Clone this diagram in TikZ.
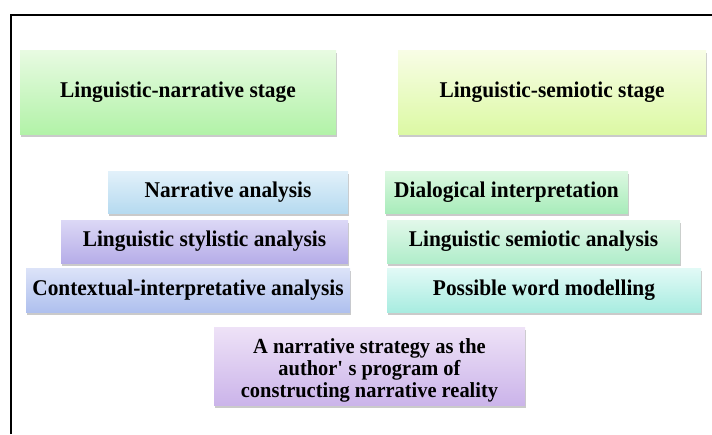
\documentclass[tikz,border=0pt]{standalone}
\usepackage{fontspec}
\setmainfont{Liberation Serif}[FakeStretch=0.95]
\usetikzlibrary{shadows}

\definecolor{narrtop}{HTML}{E8FBE2}
\definecolor{narrbot}{HTML}{B2F2A8}
\definecolor{semtop}{HTML}{F8FDE6}
\definecolor{sembot}{HTML}{DCF9A4}
\definecolor{bluetop}{HTML}{E2F1FA}
\definecolor{bluebot}{HTML}{B6DAF0}
\definecolor{lavtop}{HTML}{DCD8F6}
\definecolor{lavbot}{HTML}{B6ADE8}
\definecolor{peritop}{HTML}{DCE3F8}
\definecolor{peribot}{HTML}{AFC0EE}
\definecolor{minttop}{HTML}{DDF8E2}
\definecolor{mintbot}{HTML}{A8ECBA}
\definecolor{seatop}{HTML}{E2F8EA}
\definecolor{seabot}{HTML}{B0EDCA}
\definecolor{aquatop}{HTML}{E2FAF6}
\definecolor{aquabot}{HTML}{A8ECE0}
\definecolor{liltop}{HTML}{EEE2F7}
\definecolor{lilbot}{HTML}{CBB4EA}

\tikzset{
  box/.style={rectangle, inner sep=0pt, align=center,
    font=\bfseries\fontsize{22.5}{24}\selectfont,
    drop shadow={shadow xshift=0.8pt, shadow yshift=-2.5pt, opacity=0.35, fill=black!60}},
}

\begin{document}
\begin{tikzpicture}[x=1pt, y=-1pt]
	\useasboundingbox (0,0) rectangle (712,434);

	% outer frame, cut off at the right and bottom
	\draw[line width=2pt] (11,434) -- (11,15) -- (712,15);

	% stages
	\node[box, minimum width=316pt, minimum height=84pt, top color=narrtop, bottom color=narrbot] (narrstage) at (178,92) {Linguistic-narrative stage};
	\node[box, minimum width=308pt, minimum height=84pt, top color=semtop, bottom color=sembot] (semstage) at (552,92) {Linguistic-semiotic stage};

	% left column
	\node[box, minimum width=240pt, minimum height=42pt, top color=bluetop, bottom color=bluebot] (narran) at (228,192) {Narrative analysis};
	\node[box, minimum width=287pt, minimum height=43pt, top color=lavtop, bottom color=lavbot] (stylan) at (204.5,241.5) {Linguistic stylistic analysis};
	\node[box, minimum width=324pt, minimum height=44pt, top color=peritop, bottom color=peribot] (contan) at (188,290) {Contextual-interpretative analysis};

	% right column
	\node[box, minimum width=243pt, minimum height=42pt, top color=minttop, bottom color=mintbot] (dialint) at (506.5,192) {Dialogical interpretation};
	\node[box, minimum width=293pt, minimum height=43pt, top color=seatop, bottom color=seabot] (seman) at (533.5,241.5) {Linguistic semiotic analysis};
	\node[box, minimum width=314pt, minimum height=44pt, top color=aquatop, bottom color=aquabot] (wordmod) at (544,290) {Possible word modelling};

	% result
	\node[box, font=\bfseries\fontsize{21.5}{22}\selectfont, minimum width=311pt, minimum height=78pt, top color=liltop, bottom color=lilbot] (strategy) at (369.5,366) {\rule{0pt}{23pt}A narrative strategy as the\\author\textquotesingle\ s program of\\constructing narrative reality};
\end{tikzpicture}
\end{document}
